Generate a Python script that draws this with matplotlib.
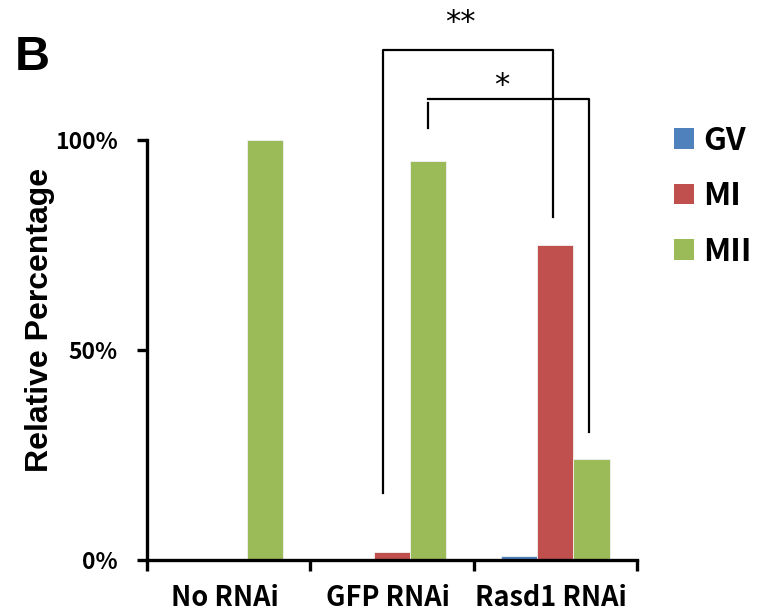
import matplotlib
matplotlib.use("Agg")
import matplotlib.pyplot as plt
import numpy as np
from matplotlib.patches import Patch

plt.rcParams['font.family'] = ['Noto Sans CJK KR', 'DejaVu Sans']

categories = ["No RNAi", "GFP RNAi", "Rasd1 RNAi"]
series_names = ["GV", "MI", "MII"]
gv = [0, 0, 1]
mi = [0, 2, 75]
mii = [100, 95, 24]
colors = ["#4F81BD", "#C0504D", "#9BBB59"]
yticks = [0, 50, 100]
ytick_labels = ["0%", "50%", "100%"]

fig = plt.figure(figsize=(7.65, 6.14), dpi=100)
ax = fig.add_axes([147/765, 54/614, 490/765, 420/614])

x = np.arange(len(categories))
w = 0.222
for i, (vals, c) in enumerate(zip([gv, mi, mii], colors)):
    ax.bar(x + (i - 1) * w, vals, width=w, color=c, edgecolor="#f2f2f2", linewidth=0.6, zorder=2)

ax.set_xlim(-0.5, 2.5)
ax.set_ylim(0, 100)
for s in ["top", "right"]:
    ax.spines[s].set_visible(False)
for s in ["left", "bottom"]:
    ax.spines[s].set_linewidth(2.4)
    ax.spines[s].set_zorder(3)

ax.set_yticks(yticks)
ax.set_yticklabels(ytick_labels, fontsize=16.5, fontweight="bold")
ax.tick_params(axis="y", direction="out", length=7, width=2.4, pad=14)

ax.set_xticks([-0.5, 0.5, 1.5, 2.5])
ax.set_xticklabels([])
ax.tick_params(axis="x", direction="out", length=8, width=2.4)
for xi, lab in zip(x, categories):
    ax.text(xi - 0.025, -10.9, lab, ha="center", va="baseline", fontsize=19.5, fontweight="bold",
            transform=ax.transData, clip_on=False)

ax.set_ylabel("Relative Percentage", fontsize=23, fontweight="bold", family="Liberation Sans")
ax.yaxis.set_label_coords(-0.188, 0.571)

fig.text(15/765, 1 - 58/614, "B", fontsize=35, fontweight="bold", ha="left", va="center",
         family="Liberation Sans")

# significance brackets (data coords)
lk = dict(color="black", linewidth=1.6, clip_on=False, zorder=4)
ax.plot([0.945, 0.945, 1.986, 1.986], [16.0, 121.4, 121.4, 81.7], **lk)
ax.plot([1.222, 1.222], [102.9, 108.8], **lk)
ax.plot([1.222, 2.209, 2.209], [109.8, 109.8, 30.5], **lk)
ax.text(1.42, 128.0, "**", ha="center", va="center", fontsize=22, family="DejaVu Sans")
ax.text(1.67, 113.0, "*", ha="center", va="center", fontsize=22, family="DejaVu Sans")

handles = [Patch(facecolor=c, edgecolor="none") for c in colors]
leg = fig.legend(handles, series_names, loc="upper left", bbox_to_anchor=(664/765, 1 - 115/614),
                 frameon=False, handlelength=0.63, handleheight=0.63,
                 handletextpad=0.3, labelspacing=0.74, borderaxespad=0, borderpad=0.3,
                 prop=dict(weight="bold", size=23))

fig.savefig("out.png", dpi=100, facecolor="white")
